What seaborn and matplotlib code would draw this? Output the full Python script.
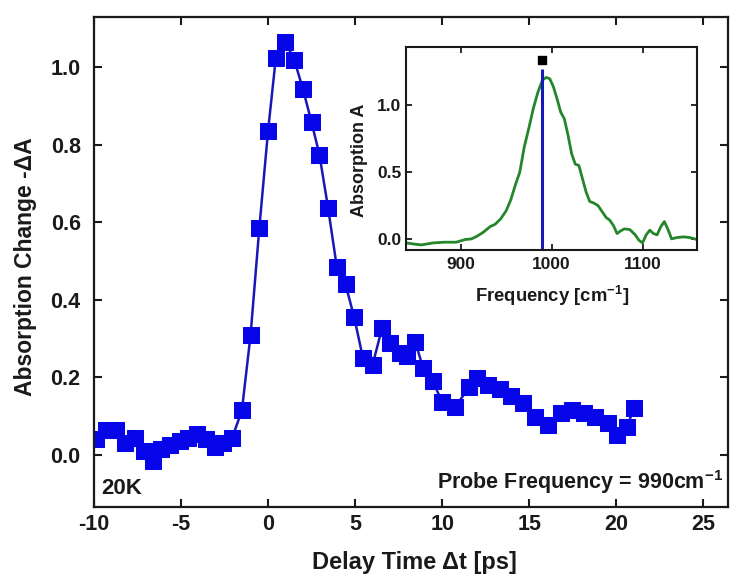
import matplotlib
matplotlib.use("Agg")
import matplotlib.pyplot as plt
import seaborn as sns
import pandas as pd

# ---- main transient data ----
delay_ps = [-9.85, -9.3, -8.75, -8.2, -7.65, -7.1, -6.6, -6.15, -5.6, -5.05,
            -4.6, -4.05, -3.55, -3.05, -2.6, -2.05, -1.5, -1.0, -0.5, 0.0,
            0.45, 1.0, 1.5, 2.0, 2.5, 2.95, 3.45, 3.95, 4.45, 4.95,
            5.45, 6.0, 6.55, 7.0, 7.55, 8.0, 8.45, 8.9, 9.45, 10.0,
            10.75, 11.55, 12.0, 12.65, 13.3, 13.95, 14.65, 15.35, 16.05, 16.8,
            17.45, 18.15, 18.8, 19.5, 20.05, 20.6, 21.0]
delta_A = [0.04, 0.065, 0.065, 0.03, 0.045, 0.01, -0.015, 0.015, 0.025, 0.035,
           0.045, 0.055, 0.04, 0.02, 0.03, 0.045, 0.115, 0.31, 0.585, 0.835,
           1.025, 1.065, 1.02, 0.945, 0.858, 0.775, 0.637, 0.485, 0.44, 0.355,
           0.25, 0.232, 0.328, 0.29, 0.262, 0.255, 0.292, 0.225, 0.19, 0.137,
           0.124, 0.175, 0.198, 0.18, 0.17, 0.152, 0.134, 0.098, 0.077, 0.108,
           0.116, 0.108, 0.098, 0.083, 0.052, 0.072, 0.12]

# ---- inset absorption spectrum ----
freq_cm = [840, 850, 857, 870, 882, 895, 905, 912, 918, 925, 932, 938, 944, 950,
           955, 960, 965, 970, 975, 980, 985, 990, 994, 998, 1002, 1006, 1010,
           1014, 1018, 1022, 1026, 1030, 1034, 1038, 1042, 1046, 1051, 1056,
           1060, 1064, 1068, 1072, 1076, 1080, 1086, 1092, 1096, 1100, 1104,
           1108, 1112, 1116, 1120, 1124, 1128, 1132, 1138, 1145, 1152, 1160]
absorb = [-0.03, -0.04, -0.045, -0.03, -0.025, -0.025, -0.005, 0.0, 0.02, 0.05,
          0.09, 0.11, 0.15, 0.21, 0.29, 0.4, 0.5, 0.69, 0.83, 0.98, 1.1, 1.19,
          1.21, 1.2, 1.14, 1.05, 0.95, 0.9, 0.78, 0.64, 0.56, 0.55, 0.45, 0.35,
          0.28, 0.27, 0.25, 0.2, 0.16, 0.14, 0.1, 0.04, 0.06, 0.075, 0.07, 0.03,
          -0.01, -0.03, 0.03, 0.065, 0.04, 0.03, 0.09, 0.13, 0.07, 0.0, 0.01,
          0.015, 0.01, -0.005]
probe_freq = 990
probe_line_top = 1.27
probe_marker_y = 1.34

main_xticks = [-10, -5, 0, 5, 10, 15, 20, 25]
main_yticks = [0.0, 0.2, 0.4, 0.6, 0.8, 1.0]
inset_xticks = [900, 1000, 1100]
inset_yticks = [0.0, 0.5, 1.0]

sns.set_style("ticks")
plt.rcParams["font.family"] = ["Liberation Sans", "DejaVu Sans"]
plt.rcParams["font.weight"] = "bold"
plt.rcParams["mathtext.fontset"] = "custom"
plt.rcParams["mathtext.rm"] = "Liberation Sans:bold"
plt.rcParams["mathtext.bf"] = "Liberation Sans:bold"
plt.rcParams["mathtext.default"] = "bf"

BLUE = "#0606e8"
LINE_BLUE = "#1818b8"
GREEN = "#24862a"
TXT = "#1a1a1a"

fig = plt.figure(figsize=(7.33, 5.84), dpi=100)
ax = fig.add_axes([0.128, 0.132, 0.865, 0.839])

df = pd.DataFrame({"t": delay_ps, "dA": delta_A})
sns.lineplot(data=df, x="t", y="dA", ax=ax, color=LINE_BLUE, linewidth=1.8,
             marker="s", markersize=11, markerfacecolor=BLUE,
             markeredgecolor=BLUE, estimator=None)

ax.set_xlim(-10, 26.4)
ax.set_ylim(-0.134, 1.13)
ax.set_xticks(main_xticks)
ax.set_yticks(main_yticks)
ax.set_xticklabels([str(v) for v in main_xticks])
ax.set_yticklabels([f"{v:.1f}" for v in main_yticks])
ax.tick_params(direction="in", length=6, width=1.5, top=True, right=True,
               labelsize=15.5, colors=TXT)
ax.tick_params(axis="x", pad=5)
ax.tick_params(axis="y", pad=9.5)
for lab in ax.get_xticklabels() + ax.get_yticklabels():
    lab.set_fontweight("bold")
for s in ax.spines.values():
    s.set_linewidth(1.6)
    s.set_color(TXT)
ax.set_xlabel("Delay Time \u0394t [ps]", fontsize=17, fontweight="bold",
              color=TXT)
ax.set_ylabel("Absorption Change -\u0394A", fontsize=16.5, fontweight="bold",
              color=TXT)
ax.xaxis.set_label_coords(0.506, -0.09)
ax.yaxis.set_label_coords(-0.089, 0.49)

ax.text(0.011, 0.038, "20K", transform=ax.transAxes, fontsize=16,
        fontweight="bold", color=TXT, ha="left", va="center")
ax.text(0.992, 0.05, "Probe Frequency = 990cm$^{-1}$", transform=ax.transAxes,
        fontsize=15.5, fontweight="bold", color=TXT, ha="right", va="center")

# ---- inset ----
ins = fig.add_axes([0.554, 0.572, 0.397, 0.348])
di = pd.DataFrame({"f": freq_cm, "A": absorb})
sns.lineplot(data=di, x="f", y="A", ax=ins, color=GREEN, linewidth=2.0,
             estimator=None)
ins.vlines(probe_freq, -0.2, probe_line_top, color=LINE_BLUE, linewidth=2.2)
ins.scatter([probe_freq], [probe_marker_y], marker="s", s=40, color="black",
            zorder=5)
ins.set_xlim(840, 1160)
ins.set_ylim(-0.083, 1.44)
ins.set_xticks(inset_xticks)
ins.set_yticks(inset_yticks)
ins.set_xticklabels([str(v) for v in inset_xticks])
ins.set_yticklabels([f"{v:.1f}" for v in inset_yticks])
ins.tick_params(direction="in", length=4, width=1.3, top=True, right=True,
                labelsize=12.5, colors=TXT)
ins.tick_params(axis="x", pad=5)
ins.tick_params(axis="y", pad=3.5)
for lab in ins.get_xticklabels() + ins.get_yticklabels():
    lab.set_fontweight("bold")
for s in ins.spines.values():
    s.set_linewidth(1.5)
    s.set_color(TXT)
ins.set_xlabel("Frequency [cm$^{-1}$]", fontsize=13.3, fontweight="bold",
               color=TXT)
ins.set_ylabel("Absorption A", fontsize=13, fontweight="bold", color=TXT)
ins.xaxis.set_label_coords(0.5, -0.165)
ins.yaxis.set_label_coords(-0.13, 0.44)

fig.savefig("out.png", dpi=100)
